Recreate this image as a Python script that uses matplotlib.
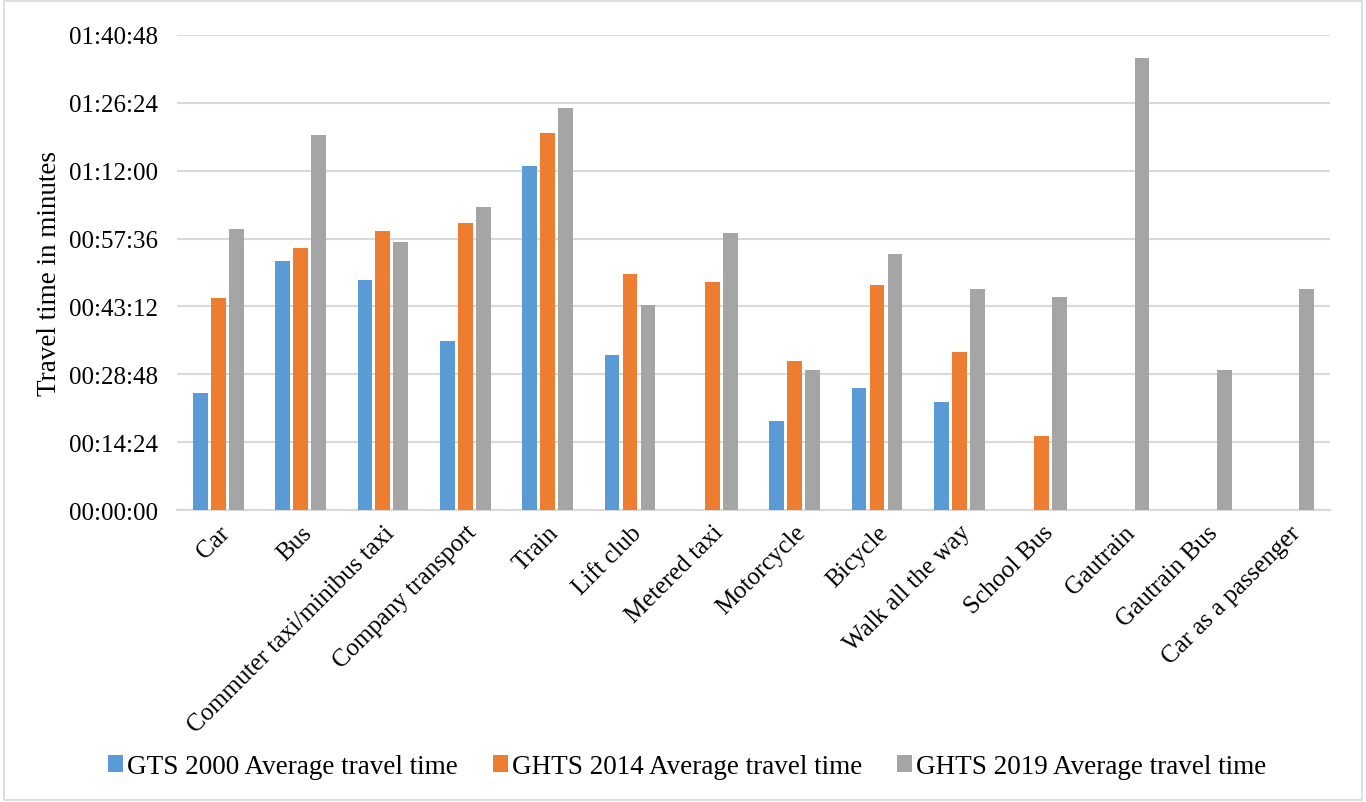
import numpy as np
import matplotlib
matplotlib.use("Agg")
import matplotlib.pyplot as plt
from matplotlib.ticker import FuncFormatter, MultipleLocator
from matplotlib.patches import Rectangle

plt.rcParams['font.family'] = ['Liberation Serif', 'DejaVu Serif']

modes = ["Car", "Bus", "Commuter taxi/minibus taxi", "Company transport", "Train",
         "Lift club", "Metered taxi", "Motorcycle", "Bicycle", "Walk all the way",
         "School Bus", "Gautrain", "Gautrain Bus", "Car as a passenger"]

# average travel time in minutes (nan = not surveyed)
nan = np.nan
gts_2000 = [24.9, 52.9, 48.9, 35.8, 73.0, 32.8, nan, 18.8, 25.9, 22.9, nan, nan, nan, nan]
ghts_2014 = [44.9, 55.5, 59.3, 60.8, 80.1, 50.1, 48.3, 31.6, 47.8, 33.6, 15.8, nan, nan, nan]
ghts_2019 = [59.7, 79.6, 56.8, 64.2, 85.2, 43.6, 58.8, 29.8, 54.4, 46.8, 45.3, 95.9, 29.8, 46.8]

series = [("GTS 2000 Average travel time", gts_2000, "#5B9BD5"),
          ("GHTS 2014 Average travel time", ghts_2014, "#ED7D31"),
          ("GHTS 2019 Average travel time", ghts_2019, "#A5A5A5")]

fig = plt.figure(figsize=(13.66, 8.03), dpi=100)
ax = fig.add_axes([0.1296, 0.3636, 0.8440, 0.5916])

x = np.arange(len(modes))
w = 0.18
step = 0.218
for i, (name, vals, col) in enumerate(series):
    ax.bar(x + (i - 1) * step, np.array(vals, dtype=float), width=w, color=col,
           label=name, zorder=3)

def hms(v, pos):
    s = int(round(v * 60))
    return f"{s // 3600:02d}:{s % 3600 // 60:02d}:{s % 60:02d}"

ax.set_ylim(0, 100.8)
ax.yaxis.set_major_locator(MultipleLocator(14.4))
ax.yaxis.set_major_formatter(FuncFormatter(hms))
ax.set_xlim(-0.5, len(modes) - 0.5)
ax.set_xticks(x)
ax.set_xticklabels(modes, rotation=45, ha='right', rotation_mode='anchor')

ax.grid(axis='y', color='#D9D9D9', linewidth=1.5, zorder=0)
for s in ['top', 'right', 'left']:
    ax.spines[s].set_visible(False)
ax.spines['bottom'].set_color('#D9D9D9')
ax.spines['bottom'].set_linewidth(1.5)
ax.tick_params(axis='both', length=0, labelsize=18, pad=8)
ax.tick_params(axis='y', pad=14)
ax.set_ylabel("Travel time in minutes", fontsize=19.5)
ax.yaxis.set_label_coords(-0.1, 0.5)

fig.legend(loc='center', bbox_to_anchor=(0.503, 0.044), ncol=3, frameon=False,
           fontsize=19.5, handlelength=0.55, handleheight=0.55, handletextpad=0.15,
           columnspacing=1.3)

fig.patches.append(Rectangle((0.003, 0.003), 0.994, 0.994, transform=fig.transFigure,
                             fill=False, edgecolor='#D9D9D9', linewidth=1.2))

fig.savefig("out.png", dpi=100)
